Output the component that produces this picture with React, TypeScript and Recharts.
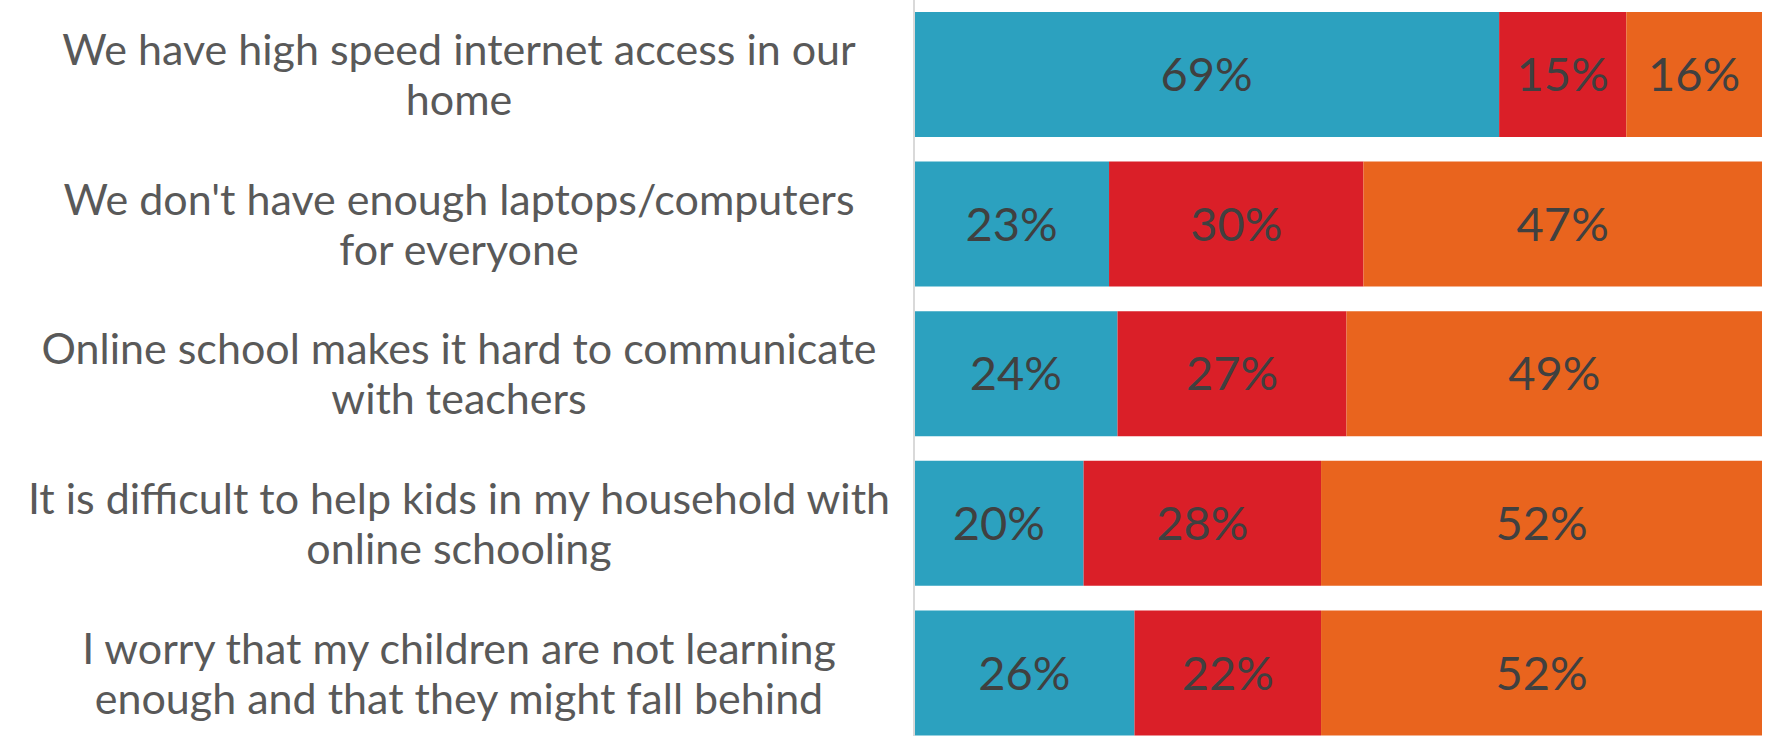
import React from "react";
import { BarChart, Bar, XAxis, YAxis, LabelList } from "recharts";

const categories = [
  "We have high speed internet access in our|home",
  "We don't have enough laptops/computers|for everyone",
  "Online school makes it hard to communicate|with teachers",
  "It is difficult to help kids in my household with|online schooling",
  "I worry that my children are not learning|enough and that they might fall behind",
];
const agree = [69, 23, 24, 20, 26];
const neutral = [15, 30, 27, 28, 22];
const disagree = [16, 47, 49, 52, 52];

const data = categories.map((name, i) => ({
  name,
  agree: agree[i],
  neutral: neutral[i],
  disagree: disagree[i],
}));

const FONT = "Lato, 'Noto Sans', sans-serif";

const CategoryTick = (props: any) => {
  const { x, y, payload } = props;
  const lines: string[] = String(payload.value).split("|");
  const lh = 50;
  const start = -((lines.length - 1) * lh) / 2;
  return (
    <g>
      {lines.map((l, i) => (
        <text
          key={i}
          x={x - 447}
          y={y + start + i * lh}
          dy="0.36em"
          textAnchor="middle"
          fill="#595959"
          fontSize={43}
          fontFamily={FONT}
        >
          {l}
        </text>
      ))}
    </g>
  );
};

const fmt = (v: any) => `${v}%`;

const labelProps = {
  position: "center" as const,
  fill: "#404040",
  fontSize: 47,
  fontFamily: FONT,
  formatter: fmt,
};

export default function App() {
  return (
    <div style={{ position: "absolute", left: 0, top: 0, width: 1770, height: 736, overflow: "hidden", background: "#fff" }}>
      <BarChart
        width={1770}
        height={748}
        data={data}
        layout="vertical"
        margin={{ top: 0, right: 8, bottom: 0, left: 0 }}
        barSize={125}
      >
        <XAxis type="number" domain={[0, 100]} hide />
        <YAxis
          type="category"
          dataKey="name"
          width={914}
          axisLine={{ stroke: "#d9d9d9", strokeWidth: 2 }}
          tickLine={false}
          tick={<CategoryTick />}
          interval={0}
        />
        <Bar dataKey="agree" stackId="a" fill="#2ca1bf" isAnimationActive={false}>
          <LabelList dataKey="agree" {...labelProps} />
        </Bar>
        <Bar dataKey="neutral" stackId="a" fill="#da1f28" isAnimationActive={false}>
          <LabelList dataKey="neutral" {...labelProps} />
        </Bar>
        <Bar dataKey="disagree" stackId="a" fill="#e9641e" isAnimationActive={false}>
          <LabelList dataKey="disagree" {...labelProps} />
        </Bar>
      </BarChart>
    </div>
  );
}
